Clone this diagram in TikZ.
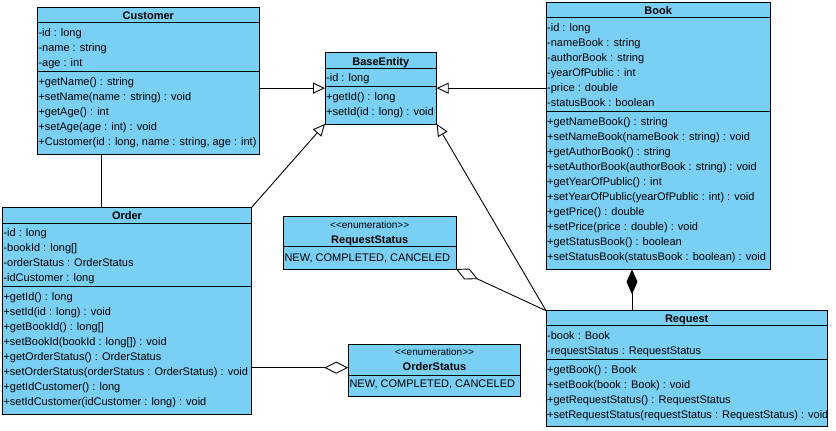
\documentclass[tikz,border=0pt]{standalone}
\usepackage{fontspec}
\setmainfont{Liberation Sans}
\usetikzlibrary{arrows.meta}
\definecolor{classfill}{HTML}{7ACFF5}

\begin{document}
\begin{tikzpicture}[x=1pt, y=-1pt,
  classbox/.style={draw=black, fill=classfill, line width=1pt, rectangle,
    inner sep=0pt, outer sep=0pt, anchor=north west},
  divider/.style={line width=1pt},
  member/.style={anchor=mid west, inner sep=0pt, yshift=-1.8pt,
    font=\fontsize{11}{13}\selectfont},
  classname/.style={anchor=mid, inner sep=0pt, yshift=-1.8pt,
    font=\fontsize{11}{13}\selectfont\bfseries},
  stereotype/.style={anchor=mid, inner sep=0pt, yshift=-1.8pt,
    font=\fontsize{10}{12}\selectfont},
  link/.style={line width=0.9pt, black},
  inherit/.style={link, -{Triangle[fill=white, length=12pt, width=11pt]}},
  aggr/.style={link, -{Diamond[fill=white, length=24pt, width=12pt]}},
  compose/.style={link, -{Diamond[fill=black, length=25pt, width=11pt]}}]

\useasboundingbox (0,0) rectangle (836,431);

% ---------- Customer ----------
\node[classbox, minimum width=222pt, minimum height=147pt] (customer) at (37.3,7.3) {};
\draw[divider] (customer.west |- 0,22.7) -- (customer.east |- 0,22.7);
\draw[divider] (customer.west |- 0,71.3) -- (customer.east |- 0,71.3);
\node[classname] (cu-name) at (148.3,15) {Customer};
\foreach [count=\i] \t in {{-id : long},{-name : string},{-age : int}}
  \node[member] (cu-a\i) at (38.3,{32.3+15*(\i-1)}) {\t};
\foreach [count=\i] \t in {{+getName() : string},{+setName(name : string) : void},
    {+getAge() : int},{+setAge(age : int) : void},
    {+Customer(id : long, name : string, age : int)}}
  \node[member] (cu-m\i) at (38.3,{81+15*(\i-1)}) {\t};

% ---------- BaseEntity ----------
\node[classbox, minimum width=111.7pt, minimum height=71.7pt] (base) at (325,52.3) {};
\draw[divider] (base.west |- 0,68) -- (base.east |- 0,68);
\draw[divider] (base.west |- 0,86.7) -- (base.east |- 0,86.7);
\node[classname] (be-name) at (380.8,60.7) {BaseEntity};
\node[member] (be-a1) at (326,77.3) {-id : long};
\node[member] (be-m1) at (326,96.5) {+getId() : long};
\node[member] (be-m2) at (326,111.3) {+setId(id : long) : void};

% ---------- Book ----------
\node[classbox, minimum width=224.3pt, minimum height=266.6pt] (book) at (546,2.7) {};
\draw[divider] (book.west |- 0,17.3) -- (book.east |- 0,17.3);
\draw[divider] (book.west |- 0,111.3) -- (book.east |- 0,111.3);
\node[classname] (bk-name) at (658.2,10) {Book};
\foreach [count=\i] \t in {{-id : long},{-nameBook : string},{-authorBook : string},
    {-yearOfPublic : int},{-price : double},{-statusBook : boolean}}
  \node[member] (bk-a\i) at (547,{27.3+15*(\i-1)}) {\t};
\foreach [count=\i] \t in {{+getNameBook() : string},
    {+setNameBook(nameBook : string) : void},
    {+getAuthorBook() : string},
    {+setAuthorBook(authorBook : string) : void},
    {+getYearOfPublic() : int},
    {+setYearOfPublic(yearOfPublic : int) : void},
    {+getPrice() : double},
    {+setPrice(price : double) : void},
    {+getStatusBook() : boolean},
    {+setStatusBook(statusBook : boolean) : void}}
  \node[member] (bk-m\i) at (547,{121+15*(\i-1)}) {\t};

% ---------- Order ----------
\node[classbox, minimum width=249.4pt, minimum height=207pt] (order) at (2.3,207.3) {};
\draw[divider] (order.west |- 0,223) -- (order.east |- 0,223);
\draw[divider] (order.west |- 0,286) -- (order.east |- 0,286);
\node[classname] (or-name) at (127,215) {Order};
\foreach [count=\i] \t in {{-id : long},{-bookId : long[]},
    {-orderStatus : OrderStatus},{-idCustomer : long}}
  \node[member] (or-a\i) at (3.3,{232.3+15*(\i-1)}) {\t};
\foreach [count=\i] \t in {{+getId() : long},
    {+setId(id : long) : void},
    {+getBookId() : long[]},
    {+setBookId(bookId : long[]) : void},
    {+getOrderStatus() : OrderStatus},
    {+setOrderStatus(orderStatus : OrderStatus) : void},
    {+getIdCustomer() : long},
    {+setIdCustomer(idCustomer : long) : void}}
  \node[member] (or-m\i) at (3.3,{296+15*(\i-1)}) {\t};

% ---------- RequestStatus ----------
\node[classbox, minimum width=172.7pt, minimum height=52.3pt] (rstatus) at (283.3,216.7) {};
\draw[divider] (rstatus.west |- 0,246.7) -- (rstatus.east |- 0,246.7);
\node[stereotype] (rs-st) at (369.7,224.3) {<\kern0pt<enumeration>\kern0pt>};
\node[classname] (rs-name) at (369.7,239.3) {RequestStatus};
\node[member] (rs-l1) at (284.3,256.7) {NEW, COMPLETED, CANCELED};

% ---------- OrderStatus ----------
\node[classbox, minimum width=172.4pt, minimum height=52pt] (ostatus) at (348.3,344) {};
\draw[divider] (ostatus.west |- 0,375) -- (ostatus.east |- 0,375);
\node[stereotype] (os-st) at (434.5,351) {<\kern0pt<enumeration>\kern0pt>};
\node[classname] (os-name) at (434.5,366) {OrderStatus};
\node[member] (os-l1) at (349.3,382.7) {NEW, COMPLETED, CANCELED};

% ---------- Request ----------
\node[classbox, minimum width=281.3pt, minimum height=116pt] (request) at (546,310.7) {};
\draw[divider] (request.west |- 0,325.7) -- (request.east |- 0,325.7);
\draw[divider] (request.west |- 0,359) -- (request.east |- 0,359);
\node[classname] (rq-name) at (686.7,318.3) {Request};
\node[member] (rq-a1) at (547,335) {-book : Book};
\node[member] (rq-a2) at (547,350) {-requestStatus : RequestStatus};
\begin{scope}
  \clip (request.north west) rectangle (request.south east);
  \foreach [count=\i] \t in {{+getBook() : Book},
      {+setBook(book : Book) : void},
      {+getRequestStatus() : RequestStatus},
      {+setRequestStatus(requestStatus : RequestStatus) : void}}
    \node[member] (rq-m\i) at (547,{369+15*(\i-1)}) {\t};
\end{scope}
\draw[line width=1pt] (request.north west) rectangle (request.south east);

% ---------- Relations ----------
\draw[inherit] (customer.east |- base.west) -- (base.west);
\draw[inherit] (book.west |- base.east) -- (base.east);
\draw[inherit] (order.north east) -- (base.south west);
\draw[inherit] (request.north west) -- (base.south east);

\coordinate (cu-link) at ([xshift=64.4pt]customer.south west);
\draw[link] (cu-link) -- (order.north -| cu-link);

\coordinate (os-in) at ([yshift=2.3pt]ostatus.west);
\draw[aggr] (order.east |- os-in) -- (os-in);
\draw[aggr] (request.north west) -- (rstatus.south east);

\coordinate (bk-out) at ([xshift=86pt]book.south west);
\draw[compose] (request.north -| bk-out) -- (bk-out);
\end{tikzpicture}
\end{document}
